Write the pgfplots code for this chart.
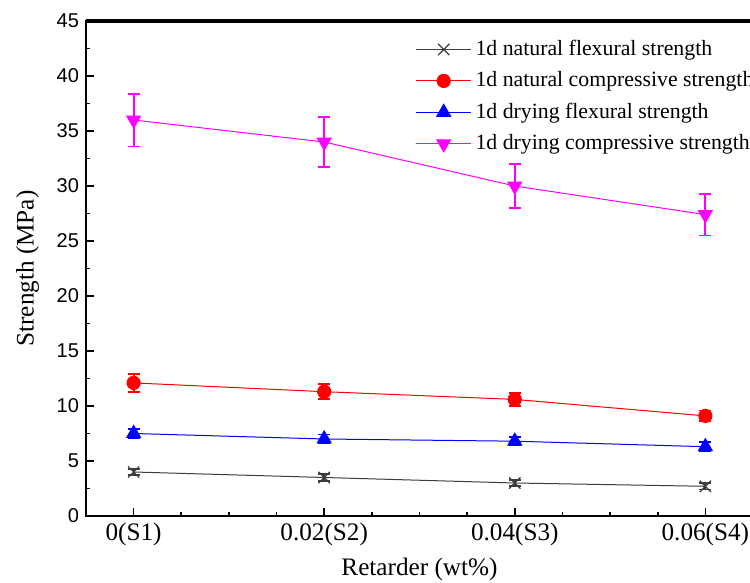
\documentclass[border=0pt]{standalone}
\usepackage{fontspec}
\setmainfont{Liberation Serif}
\newfontfamily\arial{Liberation Sans}
\usepackage{pgfplots}
\pgfplotsset{compat=1.18}
\definecolor{natblack}{RGB}{60,60,60}
\definecolor{mag}{RGB}{255,0,255}

\begin{document}
\begin{tikzpicture}
\begin{axis}[
    name=ax,
    scale only axis,
    width=333.5pt, height=247.5pt,
    xmin=-0.25, xmax=3.25,
    ymin=0, ymax=45,
    xtick={0,1,2,3},
    xticklabels={0(S1),0.02(S2),0.04(S3),0.06(S4)},
    ytick={0,5,...,45},
    minor x tick num=3,
    minor y tick num=1,
    tick pos=left,
    tick align=inside,
    major tick length=4pt,
    minor tick length=2.2pt,
    every tick/.style={black, line width=0.8pt},
    axis line style={line width=1pt},
    /pgf/number format/assume math mode=true,
    yticklabel style={font=\arial\fontsize{10}{12}\selectfont},
    xticklabel style={font=\fontsize{12.6}{14}\selectfont},
    label style={font=\fontsize{12.6}{14}\selectfont},
    xlabel={Retarder (wt\%)},
    ylabel={Strength (MPa)},
    xlabel style={yshift=1pt},
    ylabel style={yshift=2pt},
    legend style={draw=none, fill=none, at={(0.485,0.978)}, anchor=north west,
        font=\fontsize{10.9}{12}\selectfont, row sep=2.6pt},
    legend cell align=left,
    legend image code/.code={\draw[mark repeat=2,mark phase=2]
        plot coordinates {(0cm,0cm)(0.48cm,0cm)(0.96cm,0cm)};},
]
\addplot[color=natblack, line width=0.5pt, mark=x, mark size=4pt,
    mark options={line width=0.6pt},
    error bars/.cd, y dir=both, y explicit,
    error bar style={draw=natblack, line width=0.9pt},
    error mark options={rotate=90, mark size=3pt, draw=natblack, line width=0.9pt}]
coordinates {(0,4.0) +- (0,0.3) (1,3.5) +- (0,0.3) (2,3.0) +- (0,0.3) (3,2.7) +- (0,0.3)};
\addlegendentry{1d natural flexural strength}
\addplot[color=red, line width=0.5pt, mark=*, mark size=3.3pt,
    error bars/.cd, y dir=both, y explicit,
    error bar style={draw=red, line width=0.9pt},
    error mark options={rotate=90, mark size=3pt, draw=red, line width=0.9pt}]
coordinates {(0,12.1) +- (0,0.8) (1,11.3) +- (0,0.7) (2,10.6) +- (0,0.6) (3,9.1) +- (0,0.5)};
\addlegendentry{1d natural compressive strength}
\addplot[color=blue, line width=0.5pt, mark=triangle*, mark size=4pt,
    error bars/.cd, y dir=both, y explicit,
    error bar style={draw=blue, line width=0.9pt},
    error mark options={rotate=90, mark size=3pt, draw=blue, line width=0.9pt}]
coordinates {(0,7.5) +- (0,0.4) (1,7.0) +- (0,0.4) (2,6.8) +- (0,0.4) (3,6.3) +- (0,0.4)};
\addlegendentry{1d drying flexural strength}
\addplot[color=mag, line width=0.5pt, mark=triangle*, mark size=4pt,
    mark options={rotate=180},
    error bars/.cd, y dir=both, y explicit,
    error bar style={draw=mag, line width=0.9pt},
    error mark options={rotate=90, mark size=3pt, draw=mag, line width=0.9pt}]
coordinates {(0,36.0) +- (0,2.4) (1,34.0) +- (0,2.3) (2,30.0) +- (0,2.0) (3,27.4) +- (0,1.9)};
\addlegendentry{1d drying compressive strength}
\end{axis}
\draw[black, line width=1.6pt] (ax.north west) -- (ax.north east);
\pgfresetboundingbox
\useasboundingbox ([xshift=-43pt,yshift=-33.5pt]ax.south west) rectangle ([xshift=332pt,yshift=10.5pt]ax.north west);
\end{tikzpicture}
\end{document}
